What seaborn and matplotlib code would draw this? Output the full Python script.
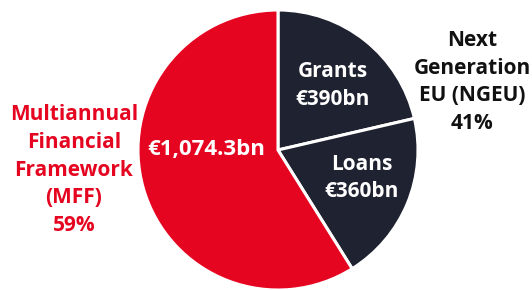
import matplotlib
matplotlib.use("Agg")
import matplotlib.pyplot as plt
import seaborn as sns

# slice data (clockwise from 12 o'clock)
segments = ["Grants", "Loans", "MFF"]
amounts = [390, 360, 1074.3]
inner_labels = ["Grants\n€390bn", "Loans\n€360bn", "€1,074.3bn"]
colors = ["#1f2230", "#1f2230", "#e50520"]

mff_label = "Multiannual\nFinancial\nFramework\n(MFF)\n59%"
ngeu_label = "Next\nGeneration\nEU (NGEU)\n41%"

sns.set_theme(style="white")
plt.rcParams["font.family"] = ["Open Sans", "DejaVu Sans"]

fig = plt.figure(figsize=(5.32, 2.9), dpi=100)
ax = fig.add_axes([138 / 532, 0, 280 / 532, 280 / 290])

wedges, _ = ax.pie(
    amounts,
    colors=colors,
    startangle=90,
    counterclock=False,
    radius=1,
    wedgeprops=dict(edgecolor="white", linewidth=2.2),
)
ax.set_xlim(-1, 1)
ax.set_ylim(-1, 1)
ax.set_aspect("equal")

# positions of the labels inside the slices (pie units)
inner_pos = [(0.39, 0.46), (0.60, -0.20), (-0.51, 0.0)]
inner_fs = [15, 15, 16]
for txt, (x, y), f in zip(inner_labels, inner_pos, inner_fs):
    ax.text(x, y, txt, ha="center", va="center", color="white",
            fontsize=f, fontweight="bold", linespacing=1.42)

fig.text(74 / 532, 1 - 170 / 290, mff_label, ha="center", va="center",
         color=colors[2], fontsize=15, fontweight="bold", linespacing=1.42)
fig.text(472 / 532, 1 - 82 / 290, ngeu_label, ha="center", va="center",
         color="#111111", fontsize=15, fontweight="bold", linespacing=1.42)

fig.savefig("out.png", dpi=100)
